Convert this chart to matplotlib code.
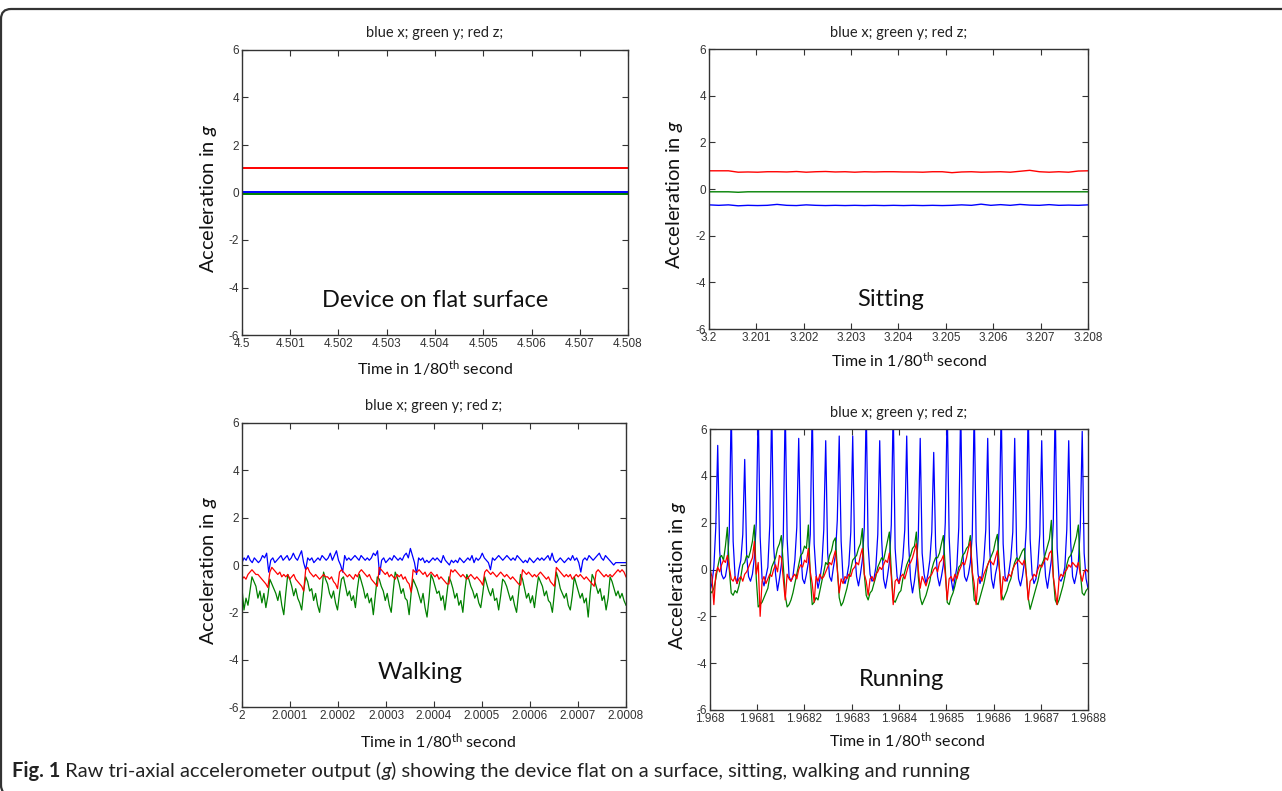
## LIBRARIES
import numpy as np
import matplotlib.pyplot as plt
from matplotlib.patches import FancyBboxPatch
from matplotlib.transforms import IdentityTransform

## DATA
# device on flat surface
x_flat = [0.04, 0.04, 0.04, 0.04, 0.04, 0.04, 0.04, 0.04, 0.04, 0.04, 0.04, 0.04]
y_flat = [-0.07, -0.07, -0.07, -0.07, -0.07, -0.07, -0.07, -0.07, -0.07, -0.07, -0.07, -0.07]
z_flat = [1.04, 1.04, 1.04, 1.04, 1.04, 1.04, 1.04, 1.04, 1.04, 1.04, 1.04, 1.04]

# sitting
x_sit = [-0.68, -0.70, -0.68, -0.72, -0.70, -0.71, -0.70, -0.66, -0.70, -0.71, -0.68, -0.70,
         -0.71, -0.70, -0.71, -0.70, -0.71, -0.70, -0.71, -0.70, -0.71, -0.70, -0.71, -0.70,
         -0.71, -0.70, -0.68, -0.70, -0.65, -0.70, -0.67, -0.70, -0.66, -0.69, -0.70, -0.67,
         -0.70, -0.69, -0.70, -0.68]
y_sit = [-0.12, -0.12, -0.12, -0.14, -0.12, -0.12, -0.12, -0.12, -0.12, -0.12, -0.12, -0.12,
         -0.12, -0.12, -0.12, -0.12, -0.12, -0.12, -0.12, -0.12, -0.12, -0.12, -0.12, -0.12,
         -0.12, -0.12, -0.12, -0.12, -0.12, -0.12, -0.12, -0.12, -0.12, -0.12, -0.12, -0.12,
         -0.12, -0.12, -0.12, -0.12]
z_sit = [0.78, 0.78, 0.78, 0.72, 0.73, 0.72, 0.74, 0.74, 0.73, 0.75, 0.72, 0.74,
         0.75, 0.73, 0.74, 0.72, 0.74, 0.73, 0.74, 0.74, 0.73, 0.73, 0.72, 0.74,
         0.74, 0.70, 0.73, 0.74, 0.72, 0.73, 0.74, 0.72, 0.76, 0.80, 0.74, 0.72,
         0.74, 0.72, 0.77, 0.78]

# walking
x_walk = [0.1, 0.3, 0.2, 0.4, 0.2, 0.1, 0.3, 0.2, 0.1, 0.2, 0.4, 0.3, 0.5, -0.3, 0.2, 0.3,
          0.1, 0.2, 0.3, 0.4, 0.2, 0.3, 0.4, 0.2, 0.3, 0.5, 0.3, 0.2, 0.4, 0.6, 0.1, -0.2,
          0.3, 0.2, 0.3, 0.1, 0.2, 0.3, 0.2, 0.4, 0.3, 0.2, 0.3, 0.5, 0.2, 0.4, 0.6, 0.2,
          0.0, -0.3, 0.4, 0.2, 0.3, 0.2, 0.3, 0.4, 0.3, 0.2, 0.4, 0.3, 0.2, 0.3, 0.2, 0.3,
          0.5, 0.4, 0.6, -0.4, 0.2, 0.3, 0.1, 0.2, 0.3, 0.2, 0.4, 0.3, 0.2, 0.3, 0.2, 0.4,
          0.5, 0.3, 0.7, 0.4, 0.1, -0.4, 0.3, 0.2, 0.3, 0.1, 0.2, 0.1, 0.2, 0.3, 0.2, 0.3,
          0.2, 0.1, 0.4, 0.2, 0.1, 0.0, 0.2, 0.1, 0.2, 0.1, 0.3, 0.2, 0.1, 0.2, 0.3, 0.2,
          0.4, 0.1, 0.3, 0.2, 0.3, 0.5, 0.3, 0.2, 0.1, -0.2, 0.3, 0.2, 0.3, 0.4, 0.3, 0.2,
          0.3, 0.4, 0.3, 0.2, 0.3, 0.2, 0.4, 0.3, 0.2, 0.1, 0.2, 0.1, 0.3, 0.2, 0.1, 0.2,
          0.3, 0.2, 0.3, 0.2, 0.3, 0.4, 0.2, 0.5, 0.2, 0.1, 0.2, 0.3, 0.2, 0.1, 0.2, 0.3,
          0.2, 0.4, 0.2, 0.3, 0.1, -0.3, 0.2, 0.3, 0.2, 0.4, 0.3, 0.2, 0.3, 0.4, 0.5, 0.3,
          0.2, 0.4, 0.3, 0.2, 0.1, 0.0, 0.1, 0.1, 0.1, 0.1, 0.1, 0.1]
y_walk = [-1.0, -1.9, -1.4, -1.7, -1.1,
          -0.5, -0.7, -0.9, -1.4, -1.1, -1.6, -1.2, -1.8, -1.3,
          -0.6, -0.8, -1.0, -1.2, -1.5, -1.1, -1.7, -2.1, -1.2,
          -0.4, -0.6, -0.9, -1.3, -1.0, -1.4, -1.6, -1.9, -1.1,
          -0.5, -0.7, -1.1, -1.0, -1.5, -1.2, -1.7, -2.0, -1.3,
          -0.3, -0.6, -0.8, -1.2, -1.4, -1.1, -1.6, -1.9, -1.2,
          -0.6, -0.5, -0.9, -1.3, -1.1, -1.5, -1.3, -1.8, -1.0,
          -0.4, -0.7, -1.0, -1.4, -1.2, -1.6, -1.4, -2.1, -1.3,
          -0.5, -0.6, -0.9, -1.1, -1.5, -1.2, -1.7, -2.0, -1.1,
          -0.3, -0.5, -0.8, -1.2, -1.0, -1.4, -1.5, -2.1, -1.2,
          -0.6, -0.8, -1.0, -1.3, -1.6, -1.2, -1.8, -2.2, -1.4,
          -0.4, -0.6, -0.9, -1.2, -1.1, -1.5, -1.3, -1.9, -1.2,
          -0.5, -0.7, -1.0, -1.4, -1.2, -1.7, -1.5, -2.0, -1.1,
          -0.4, -0.6, -0.9, -1.1, -1.4, -1.2, -1.6, -1.8, -1.2,
          -0.5, -0.8, -1.1, -1.3, -1.0, -1.5, -1.4, -1.9, -1.3,
          -0.6, -0.7, -0.9, -1.2, -1.5, -1.3, -1.7, -2.0, -1.2,
          -0.4, -0.6, -1.0, -1.4, -1.2, -1.6, -1.3, -1.8, -1.1,
          -0.5, -0.7, -0.9, -1.3, -1.1, -1.5, -1.6, -2.0, -1.2,
          -0.3, -0.6, -1.0, -1.2, -1.4, -1.2, -1.7, -1.9, -1.3,
          -0.5, -0.8, -1.1, -1.4, -1.2, -1.6, -1.4, -2.2, -1.2,
          -0.4, -0.6, -0.9, -1.2, -1.0, -1.5, -1.3, -1.9, -1.4,
          -0.5, -0.7, -1.0, -1.3, -1.1, -1.4, -1.2, -1.5, -1.7]
z_walk = [-0.6, -0.5, -0.6, -0.4, -0.3,
          -0.2, -0.3, -0.4, -0.4, -0.5, -0.6, -0.7, -0.8, -0.95,
          -0.3, -0.1, -0.2, -0.3, -0.4, -0.3, -0.5, -0.4, -0.5, -0.4, -0.6, -0.5, -0.4, -0.6,
          -0.7, -0.8, -0.9, -1.1,
          -0.2, -0.1, -0.3, -0.4, -0.5, -0.4, -0.5, -0.6, -0.5, -0.4, -0.5, -0.5, -0.6, -0.5,
          -0.7, -0.8, -1.0,
          -0.3, -0.2, -0.3, -0.4, -0.5, -0.4, -0.5, -0.6, -0.4, -0.5, -0.3, -0.2, -0.3, -0.4,
          -0.5, -0.4, -0.6, -0.7, -0.8, -0.9,
          -0.1, -0.2, -0.3, -0.4, -0.3, -0.5, -0.4, -0.5, -0.6, -0.4, -0.5, -0.4, -0.6, -0.5,
          -0.7, -0.8, -1.15,
          -0.2, -0.3, -0.3, -0.2, -0.3, -0.4, -0.3, -0.5, -0.4, -0.3, -0.4, -0.5, -0.4, -0.6,
          -0.5, -0.6, -0.7, -0.8, -0.8,
          -0.2, -0.3, -0.2, -0.3, -0.4, -0.5, -0.4, -0.5, -0.6, -0.5, -0.4, -0.5, -0.6, -0.5,
          -0.6, -0.7, -0.85,
          -0.3, -0.2, -0.3, -0.4, -0.3, -0.4, -0.5, -0.4, -0.3, -0.4, -0.5, -0.4, -0.5, -0.6,
          -0.5, -0.6, -0.7, -0.8, -0.85,
          -0.2, -0.3, -0.4, -0.3, -0.4, -0.5, -0.4, -0.5, -0.4, -0.3, -0.4, -0.5, -0.6, -0.5,
          -0.7, -0.8, -0.9,
          -0.1, -0.2, -0.3, -0.4, -0.5, -0.4, -0.5, -0.4, -0.6, -0.5, -0.4, -0.5, -0.4, -0.5,
          -0.6, -0.5, -0.6, -0.7, -0.8, -0.9,
          -0.3, -0.2, -0.3, -0.4, -0.5, -0.4, -0.5, -0.4, -0.5, -0.4, -0.3, -0.2, -0.3, -0.2,
          -0.3, -0.5]

# running
x_run = [-0.9, -0.6, 0.1, 1.8, 5.3,
         0.8, -0.2, -0.4, -0.3, 0.2, 1.6, 7.0,
         1.2, -0.3, -0.6, 0.0, 0.4, 1.5, 4.7,
         0.6, -0.3, -0.5, -0.2, 0.5, 2.0, 7.0,
         1.4, -0.4, -0.7, -0.3, 0.1, 1.9, 7.0,
         1.0, -0.2, -0.9, -0.4, 0.2, 1.4, 7.0,
         1.3, -0.3, -0.5, -0.3, 0.4, 1.8, 5.6,
         0.9, -0.4, -0.6, -0.2, 0.3, 1.5, 7.0,
         1.1, -0.2, -0.8, -0.4, 0.2, 1.7, 5.5,
         0.7, -0.3, -0.5, 0.1, 0.6, 2.1, 5.7,
         1.2, -0.4, -0.6, -0.3, 0.2, 1.6, 5.7,
         0.8, -0.3, -0.7, -0.2, 0.4, 1.8, 7.0,
         1.0, -0.2, -0.5, -0.4, 0.1, 1.5, 5.5,
         1.3, -0.4, -0.8, -0.3, 0.3, 1.9, 7.0,
         0.9, -0.3, -0.6, -0.1, 0.5, 1.7, 5.7,
         1.1, -0.4, -1.0, -0.5, 0.2, 1.4, 5.6,
         0.7, -0.2, -0.6, -0.2, 0.4, 1.6, 5.0,
         1.0, -0.3, -0.7, -0.3, 0.2, 2.0, 7.0,
         1.4, -0.4, -0.9, -0.4, 0.1, 1.8, 7.0,
         0.8, -0.3, -0.5, -0.2, 0.3, 1.5, 7.0,
         1.2, -0.2, -0.6, -0.3, 0.4, 1.7, 5.6,
         0.9, -0.4, -0.8, -0.2, 0.2, 1.9, 7.0,
         1.1, -0.3, -0.5, -0.1, 0.5, 1.6, 5.6,
         0.8, -0.4, -0.7, -0.3, 0.3, 1.8, 7.0,
         1.3, -0.2, -0.6, -0.4, 0.2, 1.5, 5.5,
         1.0, -0.3, -0.8, -0.2, 0.4, 2.0, 7.0,
         0.9, -0.4, -0.5, -0.3, 0.1, 1.7, 5.5,
         1.2, -0.3, -0.6, -0.2, 0.3, 1.8, 5.9,
         0.7, -0.4, -0.8]
y_run = [-0.9, -1.0, -0.8, -0.4, 0.1, 0.5, 0.6, 0.4, 1.0,
         1.8, 0.0, -1.0, -1.1, -0.9, -1.0, -0.7, -0.3, 0.2, 0.3, 0.6, 0.5, 0.8, 1.2,
         1.9, -0.4, -1.6, -1.5, -1.4, -1.2, -1.0, -0.8, -0.3, 0.1, 0.3, 0.5, 0.9, 1.1,
         1.45, 0.2, -1.1, -1.6, -1.5, -1.3, -1.0, -0.6, -0.2, 0.2, 0.6, 0.7, 1.0, 0.9,
         1.9, -0.3, -1.5, -1.4, -1.2, -1.3, -0.9, -0.5, -0.1, 0.3, 0.2, 0.6, 0.8, 1.2,
         1.35, 0.1, -1.2, -1.55, -1.4, -1.1, -0.8, -0.4, 0.0, 0.4, 0.5, 0.6, 0.9, 1.1,
         1.75, -0.2, -1.1, -1.3, -1.0, -0.9, -0.6, -0.3, 0.1, 0.3, 0.5, 0.4, 0.8, 1.2,
         1.6, -0.1, -1.3, -1.4, -1.2, -1.0, -0.9, -0.4, -0.1, 0.2, 0.4, 0.6, 0.9, 1.0,
         1.6, -0.3, -1.2, -1.5, -1.3, -1.1, -0.8, -0.5, 0.0, 0.3, 0.5, 0.5, 0.7, 1.1,
         1.45, 0.0, -1.4, -1.5, -1.2, -1.0, -0.7, -0.3, 0.1, 0.2, 0.6, 0.7, 0.9, 1.0,
         1.45, -0.2, -1.3, -1.4, -1.5, -1.2, -0.9, -0.6, -0.2, 0.2, 0.4, 0.6, 0.8, 1.2,
         1.5, 0.1, -1.0, -1.3, -1.1, -0.9, -0.6, -0.4, 0.0, 0.3, 0.5, 0.4, 0.6, 0.8,
         0.9, -0.2, -1.2, -1.7, -1.4, -1.1, -0.8, -0.5, -0.1, 0.2, 0.4, 0.7, 1.0, 1.3,
         2.1, -0.3, -1.3, -1.5, -1.3, -1.0, -0.7, -0.3, 0.2, 0.5, 0.6, 0.8, 1.1, 1.4,
         1.9, -0.1, -1.0, -1.1, -0.9, -0.8]
z_run = [0.0, -0.3, -1.5, -0.2, 0.1, -0.1, 0.2, 0.4, 0.3,
         0.6, 0.1, -0.4, -0.5, -0.3, -0.6, -0.4, -0.3, -0.5, -0.2, -0.1, 0.1, 0.3, 0.5,
         1.2, -0.2, 0.3, -2.0, -0.5, -0.3, -0.6, -0.4, -0.2, -0.3, 0.0, 0.2, -0.1, 0.6,
         0.5, -0.4, -1.3, -0.2, -0.4, -0.5, -0.3, -0.2, -0.4, 0.0, 0.2, 0.1, 0.4, 0.3,
         0.9, -0.1, -0.6, -1.4, -0.3, -0.5, -0.2, -0.4, -0.3, -0.1, 0.1, 0.3, 0.2, 0.5,
         0.8, 0.0, -1.0, -0.4, -0.6, -0.3, -0.4, -0.2, -0.3, 0.0, 0.1, 0.3, 0.2, 0.6,
         0.9, -0.2, -0.5, -1.1, -0.4, -0.3, -0.5, -0.2, -0.1, 0.1, 0.0, 0.2, 0.4, 0.3,
         0.7, -0.3, -1.5, -0.5, -0.4, -0.6, -0.3, -0.2, -0.4, -0.1, 0.2, 0.3, 0.5, 0.8,
         1.1, 0.0, -0.8, -0.3, -0.5, -0.7, -0.4, -0.3, -0.2, 0.0, 0.1, -0.1, 0.3, 0.4,
         0.6, -0.2, -1.3, -0.4, -0.3, -0.5, -0.2, -0.4, -0.1, 0.1, 0.3, 0.2, 0.5, 0.9,
         1.2, -0.1, -0.6, -1.5, -0.4, -0.3, -0.5, -0.2, 0.0, 0.2, 0.4, 0.3, 0.2, 0.5,
         0.8, 0.1, -1.3, -0.3, -0.5, -0.4, -0.2, -0.3, 0.0, 0.2, 0.3, 0.4, 0.3, 0.2,
         0.4, -0.2, -1.3, -0.5, -0.4, -0.2, -0.3, 0.0, 0.2, 0.1, 0.3, 0.5, 0.4, 0.7,
         0.8, -0.3, -0.9, -1.5, -0.4, -0.2, -0.3, -0.1, 0.0, 0.2, 0.1, 0.3, 0.2, 0.1,
         0.3, -0.2, -0.5, -0.1, 0.0, -0.1]

## Time axes (start, end) and tick labels
t_flat = (4.5, 4.508)
t_sit = (3.2, 3.208)
t_walk = (2.0, 2.0008)
t_run = (1.968, 1.9688)
ticks_flat = ['4.5', '4.501', '4.502', '4.503', '4.504', '4.505', '4.506', '4.507', '4.508']
ticks_sit = ['3.2', '3.201', '3.202', '3.203', '3.204', '3.205', '3.206', '3.207', '3.208']
ticks_walk = ['2', '2.0001', '2.0002', '2.0003', '2.0004', '2.0005', '2.0006', '2.0007', '2.0008']
ticks_run = ['1.968', '1.9681', '1.9682', '1.9683', '1.9684', '1.9685', '1.9686', '1.9687', '1.9688']
yticks = [-6, -4, -2, 0, 2, 4, 6]
titulo = 'blue x; green y; red z;'
nomes = ['Device on flat surface', 'Sitting', 'Walking', 'Running']
legenda = ('Fig. 1', ' Raw tri-axial accelerometer output (', 'g',
           ') showing the device flat on a surface, sitting, walking and running')

## STYLE
plt.rcParams['font.family'] = 'Lato'
plt.rcParams['mathtext.fontset'] = 'custom'
plt.rcParams['mathtext.rm'] = 'Lato'
plt.rcParams['mathtext.it'] = 'Lato:italic'
plt.rcParams['mathtext.bf'] = 'Lato:bold'
W, H = 1282, 791
fig = plt.figure(figsize=(W / 100, H / 100), dpi=100)
cinza = '#333333'

# panel layout: [left, top, width, height] in pixels from top-left, text positions in axes fraction
# 'ordem' = drawing order of x, y, z
paineis = [
    dict(box=(242, 50, 386, 285), t=t_flat, lab=ticks_flat, dados=(x_flat, y_flat, z_flat),
         nome=nomes[0], npos=(0.50, 0.12), ylab=(-0.088, 0.48), xlab=(0.50, -0.116), lw=1.4,
         ordem=(1, 0, 2)),
    dict(box=(709, 49, 379, 280), t=t_sit, lab=ticks_sit, dados=(x_sit, y_sit, z_sit),
         nome=nomes[1], npos=(0.478, 0.104), ylab=(-0.09, 0.48), xlab=(0.528, -0.114), lw=1.0,
         ordem=(0, 1, 2)),
    dict(box=(242, 423, 384, 284), t=t_walk, lab=ticks_walk, dados=(x_walk, y_walk, z_walk),
         nome=nomes[2], npos=(0.464, 0.12), ylab=(-0.088, 0.48), xlab=(0.51, -0.12), lw=0.9,
         ordem=(0, 1, 2)),
    dict(box=(710, 429, 378, 281), t=t_run, lab=ticks_run, dados=(x_run, y_run, z_run),
         nome=nomes[3], npos=(0.508, 0.107), ylab=(-0.087, 0.48), xlab=(0.521, -0.107), lw=0.9,
         ordem=(0, 1, 2)),
]
cores = ['#0000ff', '#008000', '#ff0000']

for p in paineis:
    l, t, w, h = p['box']
    ax = fig.add_axes([l / W, 1 - (t + h) / H, w / W, h / H])
    t0, t1 = p['t']
    for i in p['ordem']:
        serie = p['dados'][i]
        tempo = np.linspace(t0, t1, len(serie))
        ax.plot(tempo, serie, color=cores[i], lw=p['lw'])
    ax.set_xlim(t0, t1)
    ax.set_ylim(-6, 6)
    ax.set_xticks(np.linspace(t0, t1, len(p['lab'])))
    ax.set_xticklabels(p['lab'])
    ax.set_yticks(yticks)
    ax.set_yticklabels([str(v) for v in yticks])
    ax.tick_params(direction='in', top=True, right=True, length=4, width=0.8, color=cinza,
                   labelsize=8.5, labelcolor=cinza, pad=2)
    for lbl in ax.get_xticklabels() + ax.get_yticklabels():
        lbl.set_family('Liberation Sans')
    for s in ax.spines.values():
        s.set_color(cinza)
        s.set_linewidth(1.0)
    ax.set_title(titulo, fontsize=10.5, color='#222222', pad=9)
    ax.set_ylabel('Acceleration in $g$', fontsize=14.5, color='#111111')
    ax.yaxis.label.set_va('center')
    ax.yaxis.set_label_coords(*p['ylab'])
    ax.set_xlabel('Time in 1/80$^{\\mathrm{th}}$ second', fontsize=11.5, color='#111111')
    ax.xaxis.label.set_va('center')
    ax.xaxis.set_label_coords(*p['xlab'])
    ax.text(p['npos'][0], p['npos'][1], p['nome'], transform=ax.transAxes, ha='center',
            va='center', fontsize=17, color='#111111')

## Caption
r = fig.canvas.get_renderer()
x0 = 12
estilos = [dict(weight='bold'), dict(), dict(style='italic'), dict()]
for parte, est in zip(legenda, estilos):
    txt = fig.text(x0 / W, 1 - 771 / H, parte, fontsize=14.5, color='#222222', va='center', **est)
    x0 = txt.get_window_extent(renderer=r).x1

## Frame around figure
moldura = FancyBboxPatch((1, -4), 1320, H - 9 + 4, boxstyle='round,pad=0,rounding_size=10',
                         transform=IdentityTransform(), fill=False, ec=cinza, lw=1.6)
fig.add_artist(moldura)

plt.savefig('out.png', dpi=100)
